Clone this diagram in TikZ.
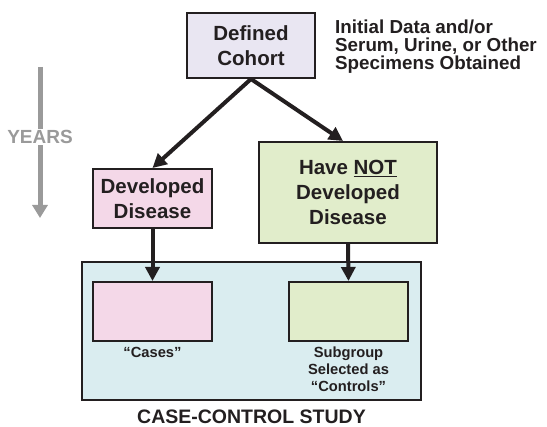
\documentclass[tikz,border=0pt]{standalone}
\usepackage{fontspec}
\setmainfont{Liberation Sans}
\usetikzlibrary{arrows.meta}
\definecolor{ink}{HTML}{231F20}
\definecolor{lav}{HTML}{E9E6F2}
\definecolor{pinkf}{HTML}{F4D8E8}
\definecolor{greenf}{HTML}{E1EDCB}
\definecolor{bluef}{HTML}{DAEDF0}
\definecolor{grayarr}{HTML}{9A9A9A}
\tikzset{
  boxst/.style={draw=ink, line width=2pt, text=ink, font=\bfseries\fontsize{20.5}{25}\selectfont, align=center, inner sep=0pt},
  arr/.style={draw=ink, line width=4pt, -{Triangle[length=14pt,width=14pt]}},
  lbl/.style={text=ink, font=\bfseries\fontsize{14.7}{17}\selectfont, align=center, inner sep=0pt},
}
\begin{document}
\begin{tikzpicture}[x=1pt,y=-1pt]
\useasboundingbox (0,0) rectangle (547,427);
% Years arrow
\coordinate (yt) at (40,67);
\coordinate (yb) at (40,218);
\draw[grayarr, line width=5pt, -{Triangle[length=13pt,width=15pt]}] (yt) -- (yb);
\node[fill=white, text=grayarr, font=\bfseries\fontsize{19}{22}\selectfont, inner sep=1.5pt] (years) at (40,137) {YEARS};
% Boxes
\node[boxst, fill=lav, minimum width=128pt, minimum height=65pt] (cohort) at (251,45.5) {Defined\\Cohort};
\node[text=ink, font=\bfseries\fontsize{18.8}{18.4}\selectfont, align=left, anchor=base west, inner sep=0pt] (info) at (335,70) {Initial Data and/or\\Serum, Urine, or Other\\Specimens Obtained};
\node[boxst, fill=pinkf, minimum width=119pt, minimum height=59pt] (dev) at (152.5,198.5) {Developed\\Disease};
\node[boxst, fill=greenf, minimum width=178pt, minimum height=101pt] (notdev) at (348,192.5) {Have \underline{NOT}\\Developed\\Disease};
\node[draw=ink, line width=2pt, fill=bluef, minimum width=339pt, minimum height=138pt, inner sep=0pt] (study) at (251.5,331) {};
\node[draw=ink, line width=2pt, fill=pinkf, minimum width=119pt, minimum height=59pt, inner sep=0pt] (cases) at (152.5,311.5) {};
\node[draw=ink, line width=2pt, fill=greenf, minimum width=119pt, minimum height=59pt, inner sep=0pt] (controls) at (348.5,311.5) {};
\node[lbl, anchor=north] (caselbl) at (cases.south) [yshift=-5pt] {“Cases”};
\node[lbl, anchor=north] (ctrllbl) at (controls.south) [yshift=-5pt] {Subgroup\\Selected as\\“Controls”};
\node[text=ink, font=\bfseries\fontsize{19.5}{22}\selectfont, inner sep=0pt, anchor=base] (title) at (251.5,423.5) {CASE-CONTROL STUDY};
% Arrows
\coordinate (apex) at (cohort.south);
\draw[arr] (apex) -- (dev.north);
\draw[arr] (apex) -- (notdev.north -| 343,0);
\draw[arr] (dev.south) -- (cases.north);
\draw[arr] (notdev.south) -- (controls.north);
\end{tikzpicture}
\end{document}
